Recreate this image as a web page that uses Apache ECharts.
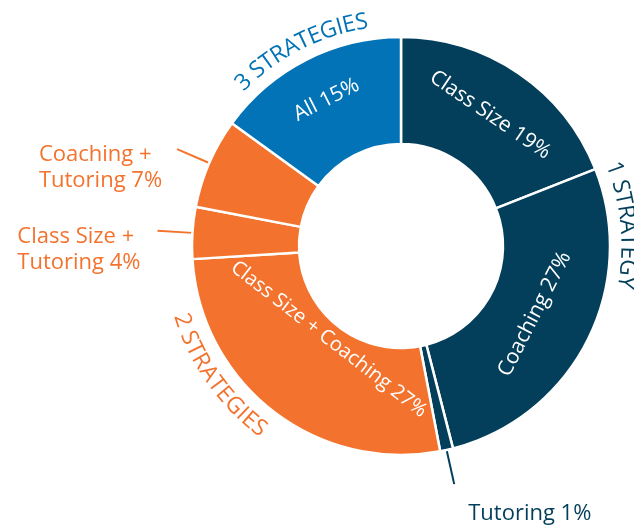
<!DOCTYPE html>
<html>
<head>
<meta charset="utf-8">
<script src="https://cdn.jsdelivr.net/npm/echarts@6/dist/echarts.min.js"></script>
<style>
html, body { margin: 0; padding: 0; background: #fff; }
#chart { width: 634px; height: 525px; }
</style>
</head>
<body>
<div id="chart"></div>
<script>
// data
var categories = ['Class Size', 'Coaching', 'Tutoring', 'Class Size + Coaching', 'Class Size + Tutoring', 'Coaching + Tutoring', 'All'];
var values = [19, 27, 1, 27, 4, 7, 15];
var strategyCount = [1, 1, 1, 2, 2, 2, 3];
var groupNames = { 1: '1 STRATEGY', 2: '2 STRATEGIES', 3: '3 STRATEGIES' };

// style / layout
var colors = { 1: '#033f5b', 2: '#f3732e', 3: '#0273b6' };
var cx = 401, cy = 246, r0 = 102, r1 = 209;
var fontFamily = '"Open Sans", sans-serif';
var outsideIdx = [2, 4, 5];
var insideR = { 1: 147, 3: 115, 6: 161 };         // radius of inside label centre
var insideSize = { 3: 20 };
var outsideShift = { 2: [9, 30], 4: [-12, 19], 5: [-10, 19] };
var titleShift = { 1: 0, 2: -3, 3: 0 };              // degrees

var total = values.reduce(function (a, b) { return a + b; }, 0);
// mid angle (radians, clockwise from top) of each slice
var midAngle = [];
var acc = 0;
values.forEach(function (v) {
    midAngle.push((acc + v / 2) / total * Math.PI * 2);
    acc += v;
});

var myChart = echarts.init(document.getElementById('chart'));

var pieData = categories.map(function (name, i) {
    var g = strategyCount[i];
    var item = {
        name: name,
        value: values[i],
        itemStyle: { color: colors[g] }
    };
    if (outsideIdx.indexOf(i) >= 0) {
        var txt = name.replace(' + ', ' +\n') + ' ' + values[i] + '%';
        item.label = {
            position: 'outside',
            rotate: 0,
            formatter: txt.split('\n').map(function (s) { return '{t|' + s + '}'; }).join('\n'),
            rich: {
                t: { color: colors[g], fontSize: 22, lineHeight: 26, fontFamily: fontFamily, align: 'left' }
            }
        };
        item.labelLine = { show: true, length: 35, length2: 0, lineStyle: { color: colors[g], width: 2 } };
    } else if (insideSize[i]) {
        item.label = { fontSize: insideSize[i] };
    }
    return item;
});

// curved group titles
var measureCtx = document.createElement('canvas').getContext('2d');
function arcText(str, centerAng, r, topsOut, color, size) {
    measureCtx.font = size + 'px ' + fontFamily;
    var ws = str.split('').map(function (c) { return measureCtx.measureText(c).width; });
    var W = ws.reduce(function (a, b) { return a + b; }, 0);
    var els = [];
    var cum = 0;
    str.split('').forEach(function (c, i) {
        var off = (cum + ws[i] / 2 - W / 2) / r;
        var ang = topsOut ? centerAng + off : centerAng - off;
        cum += ws[i];
        els.push({
            type: 'text',
            x: cx + r * Math.sin(ang),
            y: cy - r * Math.cos(ang),
            rotation: topsOut ? -ang : Math.PI - ang,
            silent: true,
            style: {
                text: c, fill: color, fontSize: size, fontFamily: fontFamily,
                align: 'center', verticalAlign: 'middle', textAlign: 'center', textVerticalAlign: 'middle'
            }
        });
    });
    return els;
}

var graphics = [];
[1, 2, 3].forEach(function (g) {
    var s = 0, a0 = 0, seen = false, c = 0;
    values.forEach(function (v, i) {
        if (strategyCount[i] === g) { if (!seen) { a0 = c; seen = true; } s += v; }
        c += v;
    });
    var ang = (a0 + s / 2) / total * Math.PI * 2 + titleShift[g] * Math.PI / 180;
    var down = Math.cos(ang) < -0.2;
    graphics = graphics.concat(arcText(groupNames[g], ang, down ? 231 : 227, !down, colors[g], 23));
});

var option = {
    animation: false,
    graphic: { elements: graphics },
    series: [{
        type: 'pie',
        center: [cx, cy],
        radius: [r0, r1],
        startAngle: 90,
        clockwise: true,
        avoidLabelOverlap: false,
        itemStyle: { borderColor: '#fff', borderWidth: 2.5 },
        label: {
            position: 'inside',
            rotate: 'tangential',
            color: '#fff',
            fontSize: 21,
            fontFamily: fontFamily,
            formatter: function (p) { return p.name + ' ' + p.value + '%'; }
        },
        labelLine: { show: false },
        labelLayout: function (p) {
            var i = p.dataIndex;
            if (outsideShift[i]) return { dx: outsideShift[i][0], dy: outsideShift[i][1] };
            if (insideR[i] != null) {
                // offset is applied in the rotated label frame
                var d = insideR[i] - (r0 + r1) / 2;
                var isDown = Math.cos(midAngle[i]) < 0;
                return { dx: 0, dy: isDown ? d : -d };
            }
            return {};
        },
        data: pieData
    }]
};

myChart.setOption(option);
</script>
</body>
</html>
